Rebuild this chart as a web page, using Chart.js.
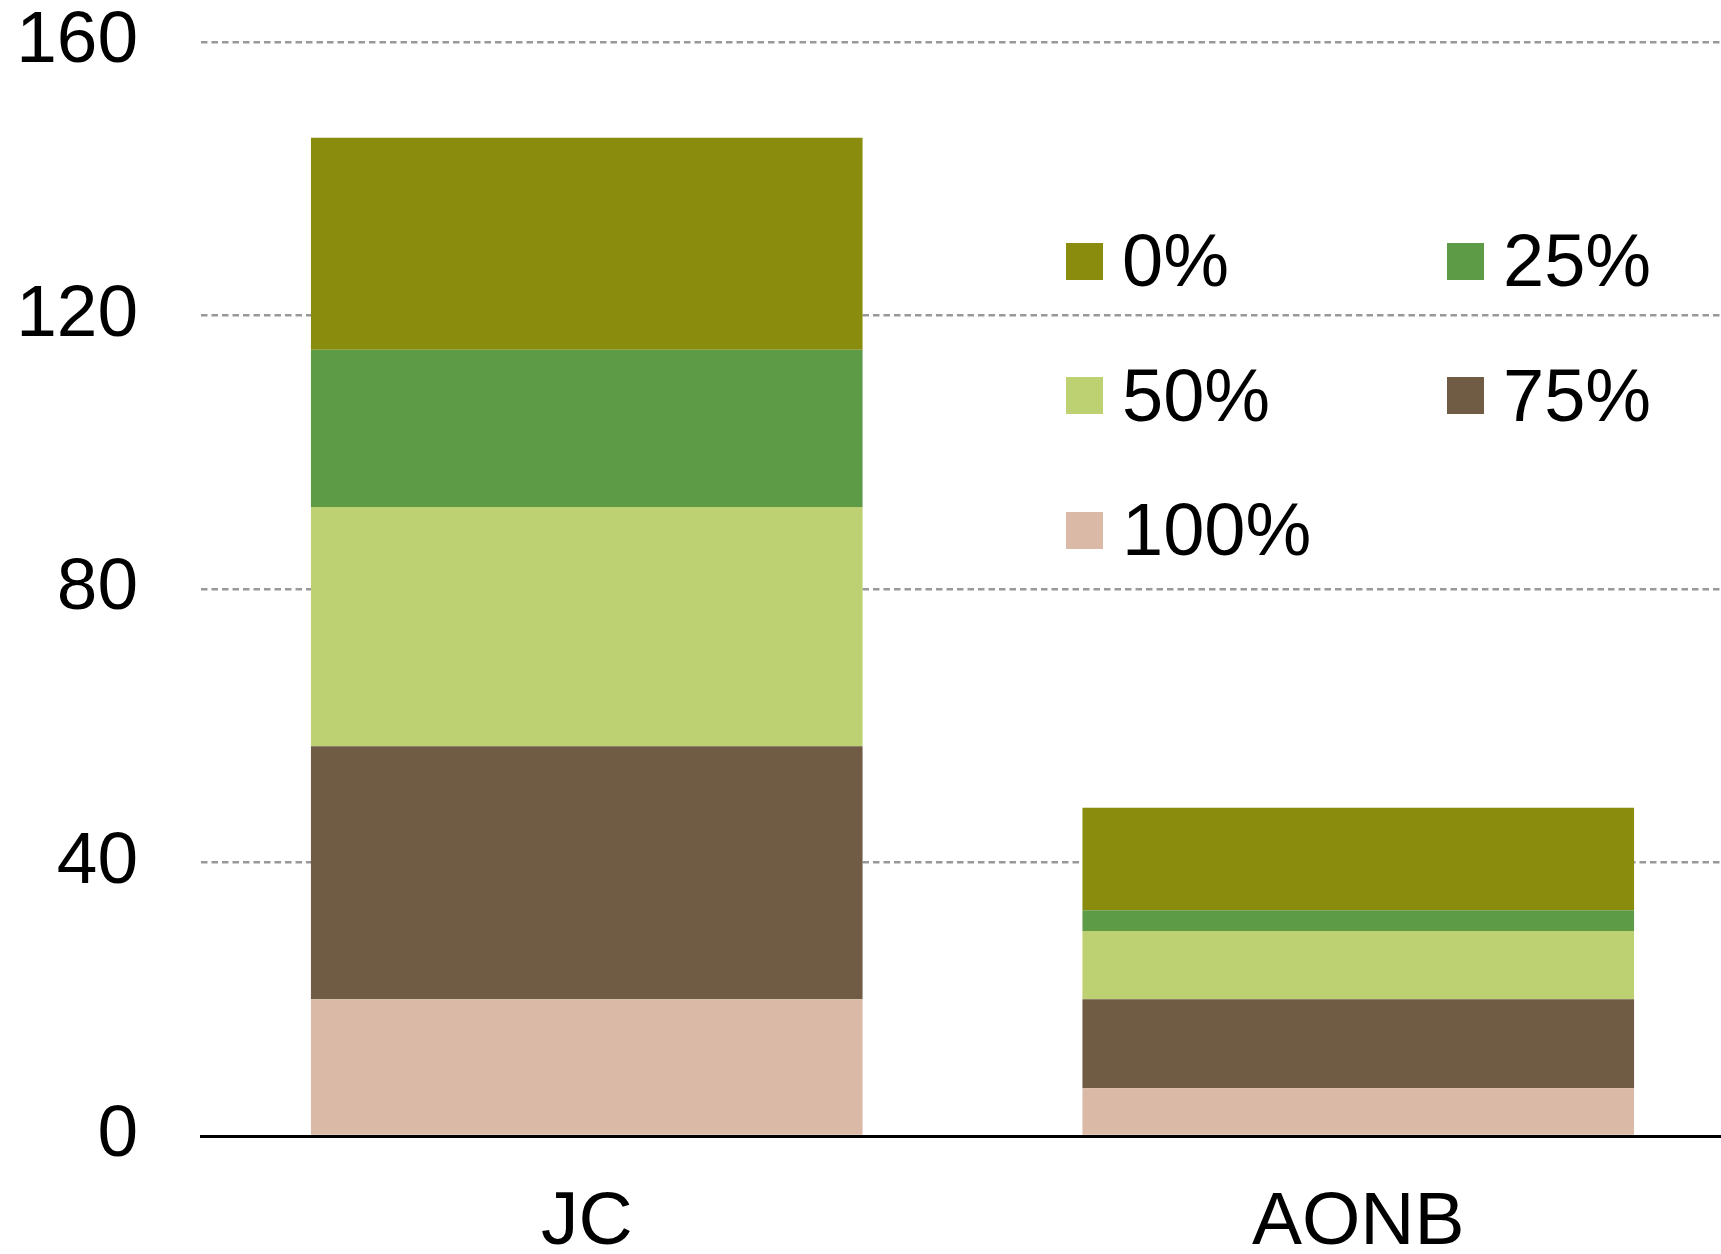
<!DOCTYPE html>
<html>
<head>
<meta charset="utf-8">
<script src="https://cdn.jsdelivr.net/npm/chart.js@4/dist/chart.umd.min.js"></script>
<style>
  html, body { margin: 0; padding: 0; background: #fff; overflow: hidden; }
  #wrap { position: relative; width: 1721px; height: 1254px; overflow: hidden; }
  #chart { position: absolute; left: 0; top: 0; }
  #legend {
    position: absolute; left: 1066px; top: 224px;
    display: grid; grid-template-columns: 381px 381px;
    row-gap: 60.5px;
    font-family: "Liberation Sans", Arial, sans-serif; font-size: 74px; line-height: 74px; color: #000;
  }
  .item { display: flex; align-items: center; height: 74px; }
  .swatch { width: 37px; height: 37px; margin-right: 19px; flex: none; }
</style>
</head>
<body>
<div id="wrap">
  <canvas id="chart" width="1744" height="1254"></canvas>
  <div id="legend"></div>
</div>
<script>
// Categories and y ticks
const categories = ["JC", "AONB"];
const yTicks = [0, 40, 80, 120, 160];

// Series (legend order, top of stack first)
const seriesLabels = ["0%", "25%", "50%", "75%", "100%"];
const seriesColors = ["#8a8c0e", "#5e9b46", "#bdd072", "#705b44", "#dbb9a7"];
const values0 = [31, 15];
const values25 = [23, 3];
const values50 = [35, 10];
const values75 = [37, 13];
const values100 = [20, 7];
const seriesValues = [values0, values25, values50, values75, values100];

const FONT = "'Liberation Sans', Arial, sans-serif";

// Stack from the bottom up: 100% first, 0% last
const datasets = seriesLabels.map((label, i) => ({
  label,
  data: seriesValues[i],
  backgroundColor: seriesColors[i],
  borderWidth: 0,
  barPercentage: 0.715,
  categoryPercentage: 1
})).reverse();

new Chart(document.getElementById("chart").getContext("2d"), {
  type: "bar",
  data: { labels: categories, datasets },
  options: {
    responsive: false,
    animation: false,
    layout: { padding: 0 },
    plugins: { legend: { display: false }, tooltip: { enabled: false } },
    scales: {
      x: {
        stacked: true,
        grid: { display: false, drawTicks: false },
        border: { display: true, color: "#000", width: 3 },
        ticks: { color: "#000", padding: 42, font: { family: FONT, size: 75 } },
        afterFit: s => { s.height = 118; s.paddingLeft = 0; s.paddingRight = 0; }
      },
      y: {
        stacked: true,
        min: 0,
        max: 160,
        afterBuildTicks: s => { s.ticks = yTicks.map(v => ({ value: v })); },
        grid: { color: "#999999", lineWidth: 2.5, drawTicks: false },
        border: { display: false, dash: [6.5, 4] },
        ticks: { color: "#000", padding: 63, font: { family: FONT, size: 73 } },
        afterFit: s => { s.width = 201; s.paddingTop = 42; s.paddingBottom = 0; }
      }
    }
  }
});

// Two-column legend inside the plot
const legend = document.getElementById("legend");
seriesLabels.forEach((label, i) => {
  const item = document.createElement("div");
  item.className = "item";
  const sw = document.createElement("span");
  sw.className = "swatch";
  sw.style.background = seriesColors[i];
  item.appendChild(sw);
  item.appendChild(document.createTextNode(label));
  legend.appendChild(item);
});
</script>
</body>
</html>
